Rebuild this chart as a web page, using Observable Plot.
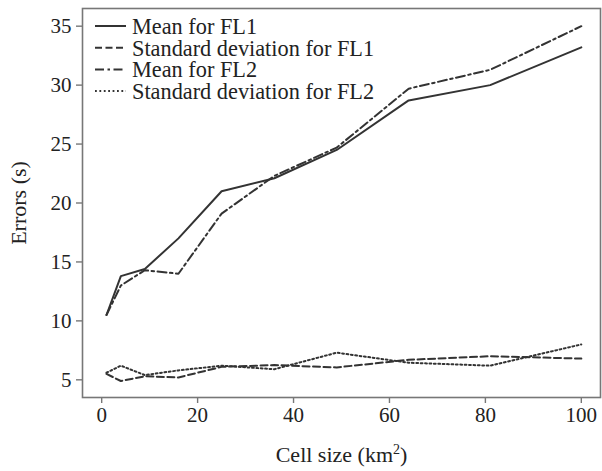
<!DOCTYPE html>
<html>
<head>
<meta charset="utf-8">
<script src="https://cdn.jsdelivr.net/npm/d3@7"></script>
<script src="https://cdn.jsdelivr.net/npm/@observablehq/plot@0.6"></script>
<style>
  body { margin: 0; background: #fff; }
  #wrap { position: relative; width: 602px; height: 471px; }
  #legend { position: absolute; left: 0; top: 0; pointer-events: none; }
</style>
</head>
<body>
<div id="wrap"></div>
<script>
const cellSize = [1, 4, 9, 16, 25, 36, 49, 64, 81, 100];
const meanFL1 = [10.5, 13.8, 14.4, 17.0, 21.0, 22.1, 24.5, 28.7, 30.0, 33.2];
const sdFL1   = [5.5, 4.9, 5.3, 5.2, 6.1, 6.25, 6.05, 6.7, 7.0, 6.8];
const meanFL2 = [10.5, 13.0, 14.3, 14.0, 19.1, 22.3, 24.7, 29.7, 31.3, 35.0];
const sdFL2   = [5.6, 6.2, 5.4, 5.8, 6.2, 5.9, 7.3, 6.45, 6.2, 8.0];
const seriesNames = ["Mean for FL1", "Standard deviation for FL1", "Mean for FL2", "Standard deviation for FL2"];
const seriesValues = [meanFL1, sdFL1, meanFL2, sdFL2];
const dashes = [null, "7,3.5", "9,3.5,2.5,3.5", "1.8,2.6"];
const xTicks = [0, 20, 40, 60, 80, 100];
const yTicks = [5, 10, 15, 20, 25, 30, 35];

const ink = "#333";
const axisColor = "#777";
const font = "'Liberation Serif', 'Times New Roman', serif";

const lineMarks = seriesValues.map((vals, i) =>
  Plot.line(cellSize.map((x, j) => ({x, y: vals[j]})), {
    x: "x", y: "y", stroke: ink, strokeWidth: 2,
    strokeDasharray: dashes[i] || undefined
  })
);

const chart = Plot.plot({
  width: 602,
  height: 471,
  marginLeft: 82,
  marginRight: 2,
  marginTop: 8,
  marginBottom: 74,
  style: { fontFamily: font, fontSize: "21px", color: "#222", background: "#fff" },
  x: { domain: [-4, 104] },
  y: { domain: [3.5, 36.5] },
  marks: [
    Plot.frame({ stroke: axisColor, strokeWidth: 1.6 }),
    Plot.axisX({ ticks: xTicks, tickSize: 6, tickPadding: 4, stroke: axisColor, strokeWidth: 1.4,
      label: "Cell size (km2)", labelAnchor: "center", labelArrow: "none", labelOffset: 64, fill: "#222" }),
    Plot.axisY({ ticks: yTicks, tickSize: 6, tickPadding: 5, stroke: axisColor, strokeWidth: 1.4,
      label: "Errors (s)", labelAnchor: "center", labelArrow: "none", labelOffset: 72, fill: "#222" }),
    ...lineMarks
  ]
});

const wrap = document.getElementById("wrap");
wrap.appendChild(chart);

// Enlarge axis titles and make the "2" a superscript
chart.querySelectorAll("text").forEach(t => {
  const s = t.textContent;
  if (s === "Errors (s)") t.setAttribute("font-size", "22px");
  if (s === "Cell size (km2)") {
    t.setAttribute("font-size", "22px");
    const ns = "http://www.w3.org/2000/svg";
    while (t.firstChild) t.removeChild(t.firstChild);
    const a = document.createElementNS(ns, "tspan"); a.textContent = "Cell size (km";
    const b = document.createElementNS(ns, "tspan"); b.textContent = "2";
    b.setAttribute("font-size", "14px"); b.setAttribute("dy", "-8");
    const c = document.createElementNS(ns, "tspan"); c.textContent = ")"; c.setAttribute("dy", "8");
    t.append(a, b, c);
  }
});

// Legend overlay
const ns = "http://www.w3.org/2000/svg";
const leg = document.createElementNS(ns, "svg");
leg.setAttribute("id", "legend");
leg.setAttribute("width", 602);
leg.setAttribute("height", 120);
seriesNames.forEach((name, i) => {
  const cy = 26 + i * 21.7;
  const ln = document.createElementNS(ns, "line");
  ln.setAttribute("x1", 95); ln.setAttribute("x2", 126);
  ln.setAttribute("y1", cy); ln.setAttribute("y2", cy);
  ln.setAttribute("stroke", ink); ln.setAttribute("stroke-width", 2);
  if (dashes[i]) ln.setAttribute("stroke-dasharray", dashes[i]);
  leg.appendChild(ln);
  const t = document.createElementNS(ns, "text");
  t.setAttribute("x", 132); t.setAttribute("y", cy);
  t.setAttribute("dy", "0.35em");
  t.setAttribute("font-family", font);
  t.setAttribute("font-size", "22.3px");
  t.setAttribute("fill", "#222");
  t.textContent = name;
  leg.appendChild(t);
});
wrap.appendChild(leg);
</script>
</body>
</html>
